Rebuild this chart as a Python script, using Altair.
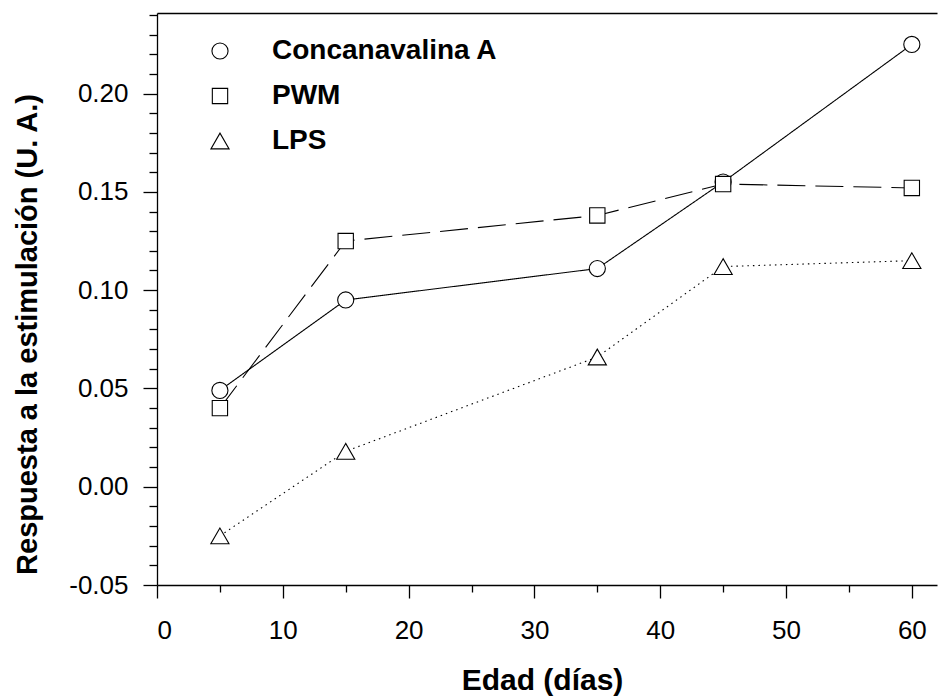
import altair as alt
import pandas as pd

# ---- data ----
dias = [5, 15, 35, 45, 60]
con_a = [0.049, 0.095, 0.111, 0.155, 0.225]
pwm = [0.040, 0.125, 0.138, 0.154, 0.152]
lps = [-0.025, 0.018, 0.066, 0.112, 0.115]
series = ["Concanavalina A", "PWM", "LPS"]

x_major = [0, 10, 20, 30, 40, 50, 60]
x_minor = [5, 15, 25, 35, 45, 55]
y_major = [-0.05, 0.0, 0.05, 0.10, 0.15, 0.20]
y_minor = [-0.04, -0.03, -0.02, -0.01, 0.01, 0.02, 0.03, 0.04, 0.06, 0.07, 0.08,
           0.09, 0.11, 0.12, 0.13, 0.14, 0.16, 0.17, 0.18, 0.19, 0.21, 0.22, 0.23, 0.24]

rows = []
for name, vals in zip(series, [con_a, pwm, lps]):
    for d, v in zip(dias, vals):
        rows.append({"serie": name, "dias": d, "valor": v})
df = pd.DataFrame(rows)

FONT = "Liberation Sans"
xs = alt.Scale(domain=[0, 62], nice=False, zero=False)
ys = alt.Scale(domain=[-0.05, 0.241], nice=False, zero=False)

x_major_axis = alt.Axis(
    orient="bottom", values=x_major, format="d", grid=False,
    tickSize=13, tickColor="black", tickWidth=1.3,
    domainColor="black", domainWidth=1.3,
    labelFont=FONT, labelFontSize=26, labelColor="black", labelPadding=19,
    title="Edad (días)", titleFont=FONT, titleFontSize=30, titleFontWeight="bold",
    titleColor="black", titleX=385, titleY=104, titleBaseline="alphabetic",
    titleAlign="center",
)
y_major_axis = alt.Axis(
    orient="left", values=y_major, grid=False,
    labelExpr="datum.value < 0 ? '-' + format(-datum.value, '.2f') : format(datum.value, '.2f')",
    tickSize=14, tickColor="black", tickWidth=1.3,
    domainColor="black", domainWidth=1.3,
    labelFont=FONT, labelFontSize=26, labelColor="black", labelPadding=15,
    title="Respuesta a la estimulación (U. A.)", titleFont=FONT, titleFontSize=29,
    titleFontWeight="bold", titleColor="black", titleX=-121, titleY=321,
    titleBaseline="alphabetic", titleAlign="center", titleAngle=270,
)
x_minor_axis = alt.Axis(orient="bottom", values=x_minor, labels=False, domain=False,
                        grid=False, tickSize=7, tickColor="black", tickWidth=1.3, title=None)
y_minor_axis = alt.Axis(orient="left", values=y_minor, labels=False, domain=False,
                        grid=False, tickSize=8, tickColor="black", tickWidth=1.3, title=None)
x_top_axis = alt.Axis(orient="top", labels=False, ticks=False, grid=False, domain=True,
                      domainColor="black", domainWidth=1.3, title=None)

base = alt.Chart(df)

dashes = {"Concanavalina A": [1, 0], "PWM": [28, 10], "LPS": [1.5, 4]}
line_layers = []
for i, name in enumerate(series):
    enc = dict(
        x=alt.X("dias:Q", scale=xs, axis=x_major_axis if i == 0 else None),
        y=alt.Y("valor:Q", scale=ys, axis=y_major_axis if i == 0 else None),
    )
    line_layers.append(
        base.transform_filter(alt.datum.serie == name)
        .mark_line(color="black", strokeWidth=1.1, strokeDash=dashes[name])
        .encode(**enc)
    )

leg = alt.Legend(orient="none", legendX=49, legendY=24, title=None,
                 labelFont=FONT, labelFontSize=28, labelFontWeight="bold",
                 labelColor="black", labelOffset=38, rowPadding=17, padding=0,
                 labelLimit=500, symbolStrokeWidth=1.1)

points = base.mark_point(filled=False, fill="white", stroke="black", color="black",
                         strokeWidth=1.1, opacity=1, fillOpacity=1).encode(
    x=alt.X("dias:Q", scale=xs, axis=None),
    y=alt.Y("valor:Q", scale=ys, axis=None),
    shape=alt.Shape("serie:N", scale=alt.Scale(domain=series, range=["circle", "square", "triangle-up"]),
                    legend=leg),
    size=alt.Size("serie:N", scale=alt.Scale(type="ordinal", domain=series, range=[260, 235, 330]),
                  legend=leg),
)

minor = base.mark_point(opacity=0).encode(
    x=alt.X("dias:Q", scale=xs, axis=x_minor_axis),
    y=alt.Y("valor:Q", scale=ys, axis=y_minor_axis),
)

top = base.mark_point(opacity=0).encode(
    x=alt.X("dias:Q", scale=xs, axis=x_top_axis),
    y=alt.Y("valor:Q", scale=ys, axis=None),
)

chart = alt.layer(*line_layers, points, minor, top).resolve_axis(
    x="independent", y="independent"
).properties(
    width=780, height=572,
    autosize=alt.AutoSizeParams(type="none"),
    padding={"left": 157, "top": 13, "right": 1, "bottom": 113},
    background="white",
).configure_view(stroke=None)

chart.save("out.html", embed_options={"renderer": "svg", "actions": False})
